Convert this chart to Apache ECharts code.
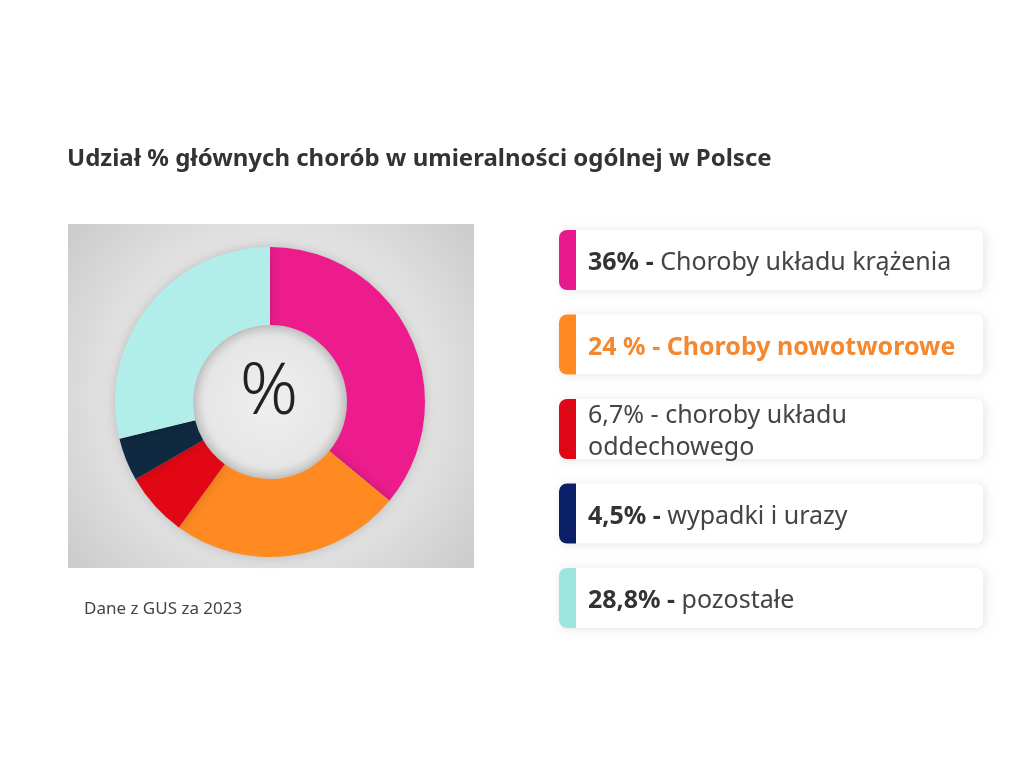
<!DOCTYPE html>
<html>
<head>
<meta charset="utf-8">
<script src="https://cdn.jsdelivr.net/npm/echarts@6/dist/echarts.min.js"></script>
<style>
  html, body { margin: 0; padding: 0; background: #fff; }
  #wykres { width: 1024px; height: 768px; }
</style>
</head>
<body>
<div id="wykres"></div>
<script>
// dane (GUS 2023)
const kategorie = ["Choroby układu krążenia", "Choroby nowotworowe", "choroby układu oddechowego", "wypadki i urazy", "pozostałe"];
const udzialy = [36, 24, 6.7, 4.5, 28.8];
const etykietyProcent = ["36%", "24 %", "6,7%", "4,5%", "28,8%"];

// kolory
const koloryWykres = ["#ec1c8c", "#ff8a22", "#e20714", "#0f2940", "#b1eeea"];
const koloryPasek = ["#e8198a", "#ff8a22", "#df0716", "#0b1e68", "#9ee5df"];

const tytul = "Udział % głównych chorób w umieralności ogólnej w Polsce";
const zrodlo = "Dane z GUS za 2023";

const chart = echarts.init(document.getElementById("wykres"));

const FONT = "'Noto Sans', 'Open Sans', sans-serif";

// 🔹 karty legendy
const karty = [];
kategorie.forEach((k, i) => {
  const top = 230 + i * 84.5;
  const h = 60;
  let tekst;
  if (i === 2) {
    // trzecia pozycja zwykłą czcionką, w dwóch wierszach
    tekst = `{n|${etykietyProcent[i]} - choroby układu}\n{n|oddechowego}`;
  } else if (i === 1) {
    // druga pozycja cała pogrubiona na pomarańczowo
    tekst = `{o|${etykietyProcent[i]} - ${k}}`;
  } else {
    tekst = `{b|${etykietyProcent[i]}}{b| - }{n|${k}}`;
  }
  karty.push({
    type: "rect",
    shape: { x: 559, y: top, width: 424, height: h, r: 7 },
    style: { fill: "#fff", shadowBlur: 10, shadowColor: "rgba(0,0,0,0.10)", shadowOffsetX: 2, shadowOffsetY: 1 },
    z: 1
  });
  karty.push({
    type: "rect",
    shape: { x: 559, y: top, width: 17, height: h, r: [8, 0, 0, 8] },
    style: { fill: koloryPasek[i] },
    z: 2
  });
  karty.push({
    type: "text",
    x: 588,
    y: top + h / 2 + 3,
    style: {
      text: tekst,
      verticalAlign: "middle",
      lineHeight: 32,
      rich: {
        b: { fontFamily: FONT, fontSize: 25, fontWeight: "bold", fill: "#333", lineHeight: 32 },
        n: { fontFamily: FONT, fontSize: 25, fontWeight: "normal", fill: "#444", lineHeight: 32 },
        o: { fontFamily: FONT, fontSize: 25, fontWeight: "bold", fill: "#f5882e", lineHeight: 32 }
      }
    },
    z: 3
  });
});

const option = {
  backgroundColor: "#fff",
  animation: false,
  title: {
    text: tytul,
    left: 67,
    top: 147,
    padding: 0,
    textStyle: { fontFamily: FONT, fontSize: 24, fontWeight: "bold", color: "#333" }
  },
  graphic: [
    // szare tło pod wykresem
    {
      type: "rect",
      shape: { x: 68, y: 224, width: 406, height: 344 },
      style: {
        fill: {
          type: "radial", x: 0.5, y: 0.5, r: 0.75,
          colorStops: [{ offset: 0, color: "#f1f1f1" }, { offset: 0.6, color: "#e3e3e3" }, { offset: 1, color: "#cccccc" }]
        }
      },
      z: -10
    },
    // środek pierścienia
    {
      type: "circle",
      shape: { cx: 270, cy: 402, r: 77 },
      style: {
        fill: {
          type: "radial", x: 0.5, y: 0.5, r: 0.5,
          colorStops: [{ offset: 0, color: "#efefef" }, { offset: 0.85, color: "#e6e6e6" }, { offset: 1, color: "#d2d2d2" }]
        }
      },
      z: -5
    },
    {
      type: "text",
      x: 269,
      y: 393,
      style: { text: "%", fontFamily: FONT, fontSize: 72, fontWeight: 300, fill: "#222", align: "center", verticalAlign: "middle" },
      z: 5
    },
    {
      type: "text",
      x: 84,
      y: 609,
      style: { text: zrodlo, fontFamily: FONT, fontSize: 17, fill: "#444", verticalAlign: "middle" }
    },
    ...karty
  ],
  series: [{
    type: "pie",
    center: [270, 402],
    radius: [77, 155],
    startAngle: 90,
    clockwise: true,
    silent: true,
    label: { show: false },
    labelLine: { show: false },
    itemStyle: { shadowBlur: 12, shadowColor: "rgba(0,0,0,0.18)" },
    data: udzialy.map((v, i) => ({ value: v, name: kategorie[i], itemStyle: { color: koloryWykres[i] } }))
  }]
};

chart.setOption(option);
</script>
</body>
</html>
